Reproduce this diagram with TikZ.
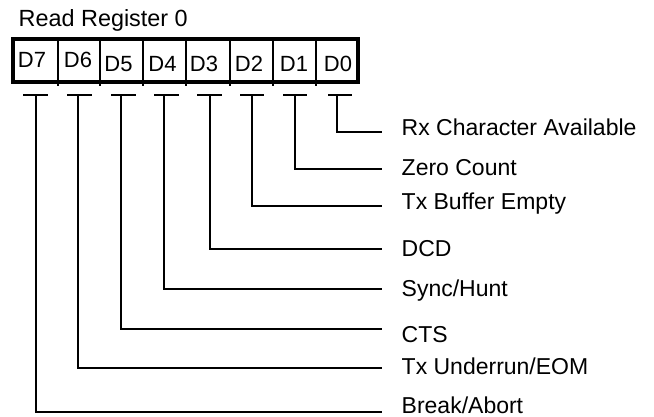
\documentclass[tikz,border=0pt]{standalone}
\usepackage{fontspec}
\setmainfont{Liberation Sans}
\begin{document}
\begin{tikzpicture}[x=1pt,y=-1pt,
  lbl/.style={anchor=base west,inner sep=0pt,font=\fontsize{23}{27}\selectfont},
  bitlbl/.style={anchor=base,inner sep=0pt,font=\fontsize{22}{26}\selectfont},
  wire/.style={line width=1.6pt},
  bittick/.style={line width=1.6pt},
  frame/.style={line width=4pt},
  divider/.style={line width=1.3pt}]
\useasboundingbox[fill=white] (0,0) rectangle (654,417);
\node[lbl,font=\fontsize{23.4}{27}\selectfont] (title) at (18.5,27) {Read Register 0};
% register cells
\draw[divider] foreach \x in {58,100,143,186,230,273,316} {(\x,39) -- (\x,86)};
\draw[frame] (13,39) rectangle (358,82);
\node[bitlbl] (b7) at (32,68) {D7};
\node[bitlbl] (b6) at (78,68) {D6};
\node[bitlbl] (b5) at (118.5,72) {D5};
\node[bitlbl] (b4) at (162.5,72) {D4};
\node[bitlbl] (b3) at (204,72) {D3};
\node[bitlbl] (b2) at (249,72) {D2};
\node[bitlbl] (b1) at (294,72) {D1};
\node[bitlbl] (b0) at (338,72) {D0};
% tick coordinates
\coordinate (t7) at (36,95);
\coordinate (t6) at (78,95);
\coordinate (t5) at (121,95);
\coordinate (t4) at (164,95);
\coordinate (t3) at (210,95);
\coordinate (t2) at (252,95);
\coordinate (t1) at (295,95);
\coordinate (t0) at (337,95);
\draw[bittick] (23,95) -- (48,95);
\draw[bittick] (67,95) -- (92,95);
\draw[bittick] (111,95) -- (136,95);
\draw[bittick] (154,95) -- (179,95);
\draw[bittick] (197,95) -- (222,95);
\draw[bittick] (240,95) -- (264,95);
\draw[bittick] (283,95) -- (307,95);
\draw[bittick] (328,95) -- (352,95);
% line ends
\coordinate (e0) at (382,132);
\coordinate (e1) at (382,169);
\coordinate (e2) at (382,206);
\coordinate (e3) at (382,249);
\coordinate (e4) at (382,289);
\coordinate (e5) at (382,329);
\coordinate (e6) at (382,368);
\coordinate (e7) at (382,412);
% labels
\node[lbl] (l0) at (401.5,136) {Rx Character Available};
\node[lbl] (l1) at (401.5,176) {Zero Count};
\node[lbl] (l2) at (401.5,210) {Tx Buffer Empty};
\node[lbl] (l3) at (401.5,256) {DCD};
\node[lbl] (l4) at (401.5,296) {Sync/Hunt};
\node[lbl] (l5) at (401.5,342) {CTS};
\node[lbl] (l6) at (401.5,374) {Tx Underrun/EOM};
\node[lbl] (l7) at (401.5,413) {Break/Abort};
% connectors
\foreach \i in {0,...,7} {\draw[wire] (t\i) |- (e\i);}
\end{tikzpicture}
\end{document}
